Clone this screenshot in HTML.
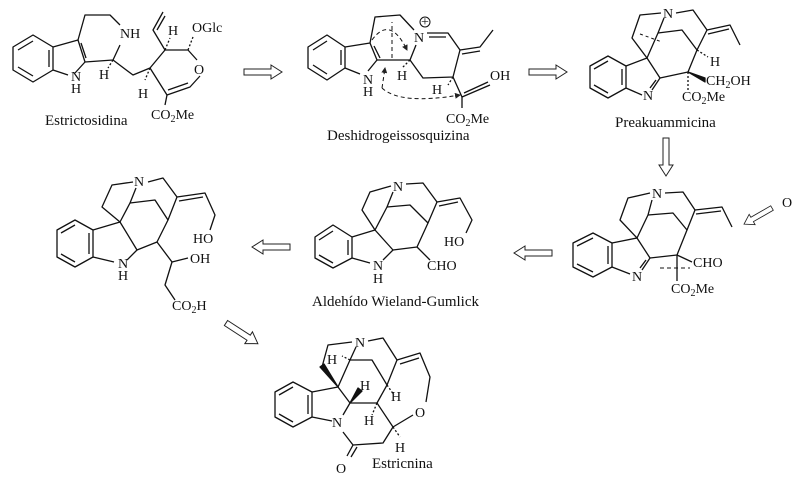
<!DOCTYPE html>
<html><head><meta charset="utf-8"><style>
html,body{margin:0;padding:0;background:#fff;}
svg{display:block;}
text{font-family:"Liberation Serif",serif;font-size:14px;fill:#111;}
.l{font-size:15px;}
</style></head><body>
<svg width="800" height="484" viewBox="0 0 800 484" xmlns="http://www.w3.org/2000/svg">
<defs>
<path id="arr" d="M0,-3 H27 V-7 L38,0 L27,7 V3 H0 Z" fill="#fff" stroke="#222" stroke-width="1"/>
<marker id="ah" markerWidth="6" markerHeight="6" refX="5" refY="3" orient="auto"><path d="M0,0 L6,3 L0,6 Z" fill="#222"/></marker>
</defs>
<g fill="none" stroke="#111" stroke-width="1.3" stroke-linejoin="round">
<polygon points="13,47 33,35 53,47 53,70 33,82 13,70"/>
<line x1="18" y1="50" x2="33" y2="41"/><line x1="49" y1="50" x2="49" y2="67"/><line x1="18" y1="67" x2="33" y2="76"/>
<polyline points="53,47 78,40 85,62 75,73"/><line x1="53" y1="70" x2="68" y2="75"/>
<line x1="81" y1="43" x2="86" y2="58"/>
<polyline points="78,40 85,15 110,15 120,25"/>
<polyline points="85,62 113,60 120,45"/>
<polyline points="113,60 133,75 150,68 165,50 188,50 197,60"/>
<polyline points="150,68 167,95 190,87 200,76"/><line x1="168" y1="90" x2="188" y2="83"/>
<line x1="167" y1="95" x2="165" y2="105"/>
<polyline points="165,50 153,30 163,12"/><line x1="157" y1="30" x2="165" y2="16"/>
<line x1="188" y1="50" x2="193" y2="37" stroke-dasharray="2,2"/>
<line x1="113" y1="60" x2="108" y2="68" stroke-dasharray="2,2"/>
<line x1="165" y1="50" x2="170" y2="38" stroke-dasharray="2,2"/>
<line x1="150" y1="68" x2="145" y2="80" stroke-dasharray="2,2"/>
<polygon points="308,47 327,35 345,47 345,68 327,80 308,68"/>
<line x1="313" y1="50" x2="327" y2="41"/><line x1="341" y1="50" x2="341" y2="65"/><line x1="313" y1="65" x2="327" y2="74"/>
<polyline points="345,47 370,43 377,60 368,71"/><line x1="345" y1="68" x2="360" y2="74"/>
<line x1="374" y1="46" x2="380" y2="58"/>
<polyline points="370,43 375,17 400,15 414,30"/>
<polyline points="377,60 410,60 416,45"/>
<polyline points="427,33 448,33 460,50 480,47 493,30"/><line x1="429" y1="37" x2="446" y2="37"/><line x1="462" y1="54" x2="480" y2="51"/>
<polyline points="460,50 453,77 423,78 410,60"/>
<polyline points="453,77 462,97 490,85"/><line x1="464" y1="93" x2="488" y2="82"/>
<line x1="462" y1="97" x2="462" y2="108"/>
<line x1="410" y1="60" x2="402" y2="68" stroke-dasharray="2,2"/>
<line x1="453" y1="77" x2="448" y2="85" stroke-dasharray="2,2"/>
<g stroke-dasharray="4,3" stroke-width="1">
<path d="M372,40 Q390,15 407,50" marker-end="url(#ah)"/>
<line x1="392" y1="58" x2="392" y2="22"/>
<path d="M382,88 Q400,105 460,95" marker-end="url(#ah)"/>
<line x1="382" y1="88" x2="385" y2="68" marker-end="url(#ah)"/>
</g>
<polygon points="590,66 608,56 626,66 626,88 608,98 590,88"/>
<line x1="594" y1="69" x2="608" y2="61"/><line x1="622" y1="69" x2="622" y2="85"/><line x1="594" y1="85" x2="608" y2="93"/>
<polyline points="626,66 647,58 660,78 652,90"/><line x1="626" y1="88" x2="642" y2="95"/><line x1="656" y1="80" x2="650" y2="88"/>
<polyline points="661,13 640,15 632,38 647,58 658,33 664,18"/>
<polyline points="658,33 682,30 697,50 707,30 730,25 740,45"/><line x1="708" y1="34" x2="729" y2="29"/>
<polyline points="676,13 693,10 707,30"/>
<polyline points="697,50 688,72 660,78"/>
<line x1="688" y1="72" x2="688" y2="92" stroke-dasharray="2,2"/>
<line x1="697" y1="50" x2="708" y2="57" stroke-dasharray="2,2"/>
<line x1="640" y1="34" x2="662" y2="42" stroke-dasharray="3,3" stroke-width="1"/>
<path d="M688,72 L705,78 L705,82 Z" fill="#111"/>
<polygon points="573,243 593,233 612,243 612,267 593,277 573,267"/>
<line x1="577" y1="246" x2="593" y2="238"/><line x1="608" y1="246" x2="608" y2="264"/><line x1="577" y1="264" x2="593" y2="272"/>
<polyline points="612,243 637,238 650,258 642,270"/><line x1="612" y1="267" x2="630" y2="274"/><line x1="646" y1="260" x2="640" y2="268"/>
<polyline points="650,193 628,198 620,220 637,238 648,215 652,200"/>
<polyline points="648,215 673,213 687,230 695,210 722,207 732,227"/><line x1="696" y1="214" x2="721" y2="211"/>
<polyline points="665,193 683,192 695,210"/>
<polyline points="687,230 677,255 650,258"/>
<line x1="677" y1="255" x2="692" y2="262"/><line x1="677" y1="255" x2="677" y2="281"/>
<line x1="660" y1="268" x2="690" y2="268" stroke-dasharray="4,3" stroke-width="1"/>
<polygon points="57,230 75,220 93,230 93,257 75,267 57,257"/>
<line x1="61" y1="233" x2="75" y2="225"/><line x1="89" y1="233" x2="89" y2="254"/><line x1="61" y1="254" x2="75" y2="262"/>
<polyline points="93,230 120,222 137,250 127,260"/><line x1="93" y1="257" x2="114" y2="262"/>
<polyline points="133,182 112,185 102,207 120,222 130,203 136,188"/>
<polyline points="130,203 155,200 168,220 177,197 205,193 215,215 210,230"/><line x1="179" y1="201" x2="203" y2="197"/>
<polyline points="148,182 163,178 177,197"/>
<polyline points="168,220 157,242 137,250"/>
<polyline points="157,242 172,262 188,258"/><polyline points="172,262 165,285 175,300"/>
<polygon points="315,237 333,225 352,237 352,258 333,268 315,258"/>
<line x1="319" y1="240" x2="333" y2="231"/><line x1="348" y1="240" x2="348" y2="255"/><line x1="319" y1="255" x2="333" y2="263"/>
<polyline points="352,237 375,230 393,250 383,260"/><line x1="352" y1="258" x2="370" y2="263"/>
<polyline points="391,186 370,192 362,210 375,230 387,207 393,192"/>
<polyline points="387,207 410,205 428,223 437,202 460,198 472,220 466,233"/><line x1="439" y1="206" x2="458" y2="202"/>
<polyline points="406,184 423,183 437,202"/>
<polyline points="428,223 417,247 393,250"/>
<polyline points="417,247 430,260"/>
<polygon points="275,392 293,382 312,392 312,417 293,427 275,417"/>
<line x1="279" y1="395" x2="293" y2="387"/><line x1="308" y1="395" x2="308" y2="414"/><line x1="279" y1="414" x2="293" y2="422"/>
<polyline points="312,392 338,387 350,403 377,403 393,427 383,443 353,445 343,432"/>
<line x1="312" y1="417" x2="332" y2="421"/><line x1="350" y1="403" x2="343" y2="415"/>
<line x1="353" y1="445" x2="347" y2="456"/><line x1="357" y1="447" x2="351" y2="457"/>
<polyline points="352,342 328,345 322,367"/>
<path d="M338,387 L320,367 L324,364 Z" fill="#111"/>
<polyline points="338,387 350,360 372,360 387,385 377,403"/>
<polyline points="350,360 356,347"/>
<polyline points="368,341 383,338 397,360 387,385"/>
<polyline points="397,360 420,353 430,377 426,402"/><line x1="400" y1="364" x2="419" y2="358"/>
<line x1="393" y1="427" x2="413" y2="415"/>
<path d="M350,403 L358,388 L362,391 Z" fill="#111"/>
<line x1="377" y1="403" x2="372" y2="415" stroke-dasharray="2,2"/>
<line x1="387" y1="385" x2="394" y2="395" stroke-dasharray="2,2"/>
<line x1="393" y1="427" x2="400" y2="437" stroke-dasharray="2,2"/>
<line x1="350" y1="360" x2="342" y2="356" stroke-dasharray="2,2"/>
</g>
<use href="#arr" transform="translate(244,72)"/>
<use href="#arr" transform="translate(529,72)"/>
<use href="#arr" transform="translate(666,138) rotate(90)"/>
<use href="#arr" transform="translate(552,253) rotate(180)"/>
<use href="#arr" transform="translate(290,247) rotate(180)"/>
<use href="#arr" transform="translate(226,323) rotate(33)"/>
<use href="#arr" transform="translate(772,208) scale(0.85) rotate(150)"/>
<text x="120" y="38" font-size="14">NH</text>
<text x="71" y="81">N</text><text x="71" y="93">H</text>
<text x="99" y="79">H</text><text x="138" y="98">H</text><text x="168" y="35">H</text>
<text x="192" y="32">OGlc</text><text x="194" y="74">O</text>
<text x="151" y="119">CO<tspan font-size="10" dy="3">2</tspan><tspan dy="-3">Me</tspan></text>
<text x="45" y="125" class="l">Estrictosidina</text>
<text x="414" y="42">N</text><circle cx="425" cy="22" r="5" fill="none" stroke="#111"/><text x="421" y="26" font-size="10">+</text>
<text x="363" y="84">N</text><text x="363" y="96">H</text>
<text x="397" y="80">H</text><text x="432" y="94">H</text>
<text x="490" y="80">OH</text>
<text x="446" y="123">CO<tspan font-size="10" dy="3">2</tspan><tspan dy="-3">Me</tspan></text>
<text x="327" y="140" class="l">Deshidrogeissosquizina</text>
<text x="663" y="18">N</text><text x="643" y="100">N</text>
<text x="710" y="66">H</text>
<text x="706" y="85">CH<tspan font-size="10" dy="3">2</tspan><tspan dy="-3">OH</tspan></text>
<text x="682" y="101">CO<tspan font-size="10" dy="3">2</tspan><tspan dy="-3">Me</tspan></text>
<text x="615" y="127" class="l">Preakuammicina</text>
<text x="652" y="198">N</text><text x="632" y="281">N</text>
<text x="693" y="267">CHO</text>
<text x="671" y="293">CO<tspan font-size="10" dy="3">2</tspan><tspan dy="-3">Me</tspan></text>
<text x="782" y="207">O</text>
<text x="134" y="186">N</text><text x="118" y="268">N</text><text x="118" y="280">H</text>
<text x="193" y="243">HO</text><text x="190" y="263">OH</text>
<text x="172" y="310">CO<tspan font-size="10" dy="3">2</tspan><tspan dy="-3">H</tspan></text>
<text x="393" y="191">N</text><text x="373" y="270">N</text><text x="373" y="283">H</text>
<text x="444" y="246">HO</text><text x="427" y="270">CHO</text>
<text x="312" y="306" class="l">Aldehído Wieland-Gumlick</text>
<text x="355" y="347">N</text><text x="332" y="427">N</text>
<text x="327" y="364">H</text><text x="360" y="390">H</text><text x="391" y="401">H</text>
<text x="364" y="425">H</text><text x="395" y="452">H</text>
<text x="415" y="417">O</text><text x="336" y="473">O</text>
<text x="372" y="468" class="l">Estricnina</text>
</svg>
</body></html>
